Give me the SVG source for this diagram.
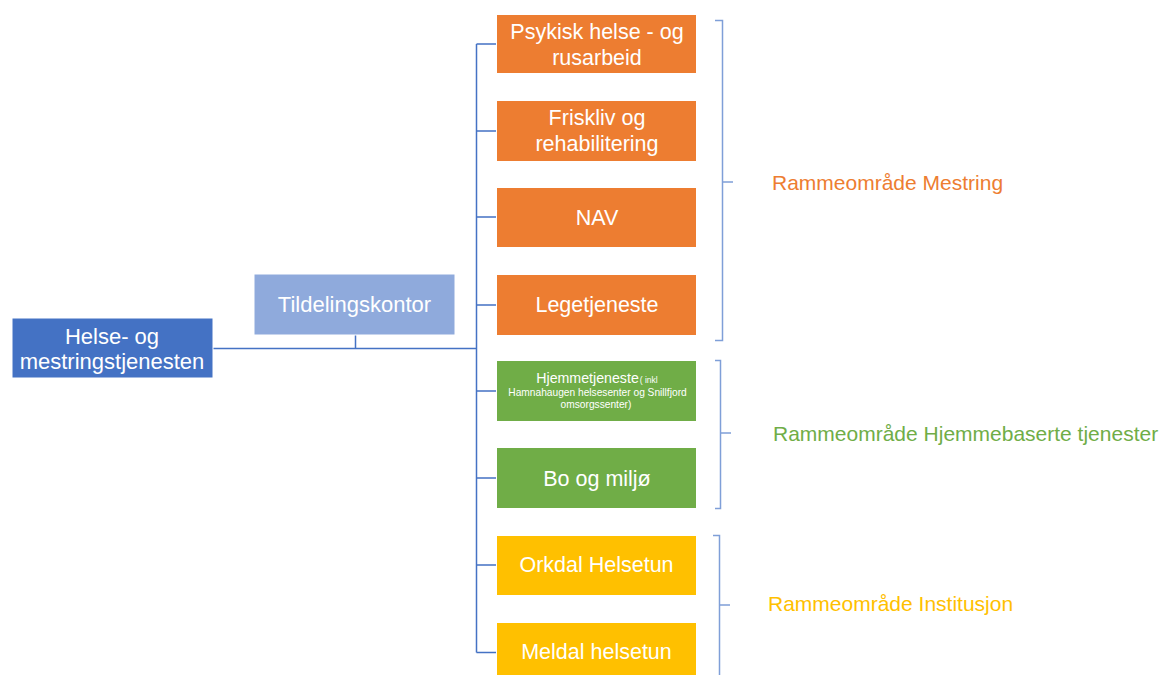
<svg xmlns="http://www.w3.org/2000/svg" width="1167" height="675" viewBox="0 0 1167 675">
<style>
.box{stroke:#fff;stroke-width:1}
.t{font-family:"Liberation Sans",Arial,sans-serif;fill:#fff;text-anchor:middle;font-size:21.5px}
.s{font-size:10.2px}
.c{fill:none;stroke:#4472C4;stroke-width:1.5}
.b{fill:none;stroke:#7F9FD8;stroke-width:1.5}
.lab{font-family:"Liberation Sans",Arial,sans-serif;font-size:21px}
</style>
<rect width="1167" height="675" fill="#fff"/>
<g id="connectors">
<path class="c" d="M213 348.5H476.5M355.5 335V348.5M476.5 44V652.5M476.5 44H497M476.5 131H497M476.5 217H497M476.5 305H497M476.5 391H497M476.5 478H497M476.5 565H497M476.5 652.5H497"/>
</g>
<g id="brackets">
<path class="b" d="M715 20.5H722.5V340.5H715M722.5 182H733"/>
<path class="b" d="M715 360.5H720.5V508.5H715M720.5 433H731"/>
<path class="b" d="M713 535.5H719.5V675M719.5 605H730"/>
</g>
<g id="n-helse">
<rect class="box" x="12" y="318" width="201" height="60" fill="#4472C4"/>
<text class="t" x="112" y="344" style="font-size:22px">Helse- og</text>
<text class="t" x="112" y="369" style="font-size:22px">mestringstjenesten</text>
</g>
<g id="n-tildeling">
<rect class="box" x="254" y="274" width="201" height="61" fill="#8FAADC"/>
<text class="t" x="354.5" y="312" style="font-size:22px">Tildelingskontor</text>
</g>
<g id="n-psykisk">
<rect class="box" x="496.5" y="14.5" width="200" height="59" fill="#ED7D31"/>
<text class="t" x="597" y="39">Psykisk helse - og</text>
<text class="t" x="597" y="65">rusarbeid</text>
</g>
<g id="n-friskliv">
<rect class="box" x="496.5" y="100.5" width="200" height="61" fill="#ED7D31"/>
<text class="t" x="597" y="125">Friskliv og</text>
<text class="t" x="597" y="151">rehabilitering</text>
</g>
<g id="n-nav">
<rect class="box" x="496.5" y="187.5" width="200" height="60" fill="#ED7D31"/>
<text class="t" x="597" y="225">NAV</text>
</g>
<g id="n-lege">
<rect class="box" x="496.5" y="274.5" width="200" height="61" fill="#ED7D31"/>
<text class="t" x="597" y="312">Legetjeneste</text>
</g>
<g id="n-hjemme">
<rect class="box" x="496.5" y="360.5" width="200" height="61" fill="#70AD47"/>
<text class="t" x="597" y="383" style="font-size:14.2px">Hjemmetjeneste<tspan style="font-size:8.5px" dx="1">( inkl</tspan></text>
<text class="t s" x="597.5" y="396">Hamnahaugen helsesenter og Snillfjord</text>
<text class="t s" x="596" y="408">omsorgssenter)</text>
</g>
<g id="n-bo">
<rect class="box" x="496.5" y="447.5" width="200" height="61" fill="#70AD47"/>
<text class="t" x="597" y="486">Bo og miljø</text>
</g>
<g id="n-orkdal">
<rect class="box" x="496.5" y="535.5" width="200" height="60" fill="#FFC000"/>
<text class="t" x="596.5" y="572">Orkdal Helsetun</text>
</g>
<g id="n-meldal">
<rect class="box" x="496.5" y="622.5" width="200" height="60" fill="#FFC000"/>
<text class="t" x="596.5" y="659">Meldal helsetun</text>
</g>
<g id="labels">
<text class="lab" x="772" y="190" fill="#ED7D31">Rammeområde Mestring</text>
<text class="lab" x="773" y="441" fill="#70AD47">Rammeområde Hjemmebaserte tjenester</text>
<text class="lab" x="768" y="611" fill="#FFC000">Rammeområde Institusjon</text>
</g>
</svg>
